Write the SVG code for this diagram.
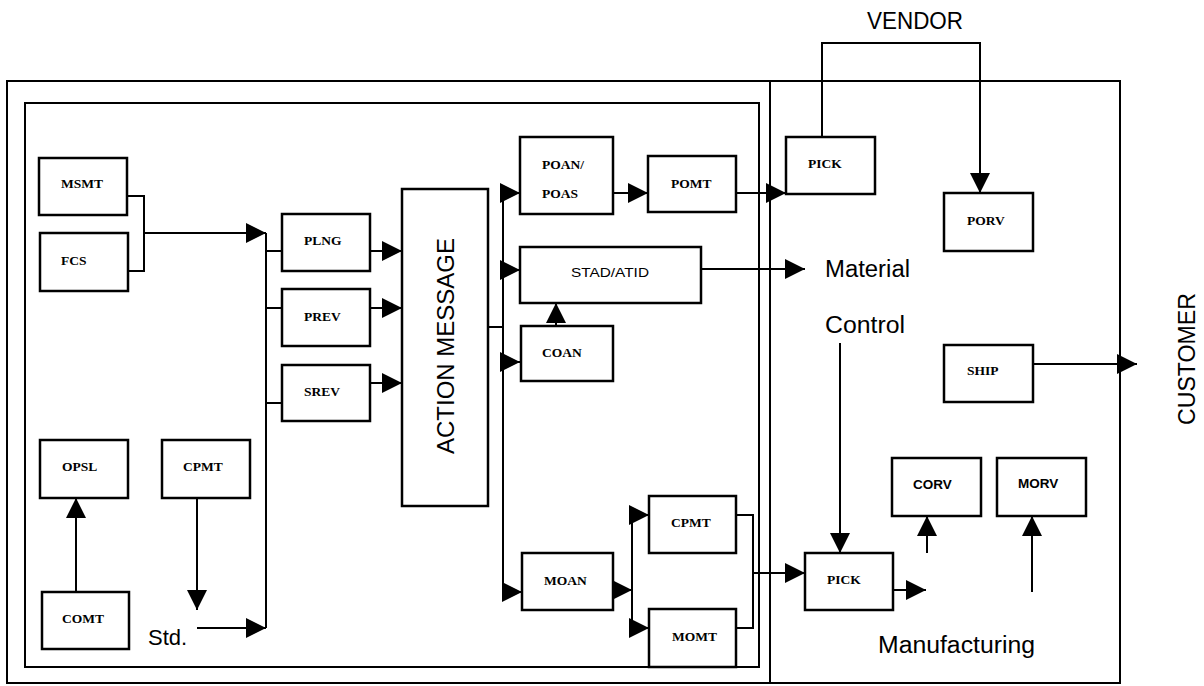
<svg xmlns="http://www.w3.org/2000/svg" width="1204" height="686" viewBox="0 0 1204 686">
<defs>
<marker id="ah" markerUnits="userSpaceOnUse" markerWidth="20" markerHeight="20" refX="20" refY="10" orient="auto">
<path d="M0,0 L20,10 L0,20 Z" fill="#000"/>
</marker>
<style>
.frame{fill:none;stroke:#000;stroke-width:2}
.box{fill:#fff;stroke:#000;stroke-width:2.5}
.ln{fill:none;stroke:#000;stroke-width:2}
.ar{fill:none;stroke:#000;stroke-width:2;marker-end:url(#ah)}
.lbl{font-family:"Liberation Serif",serif;font-weight:bold;font-size:13.5px;fill:#000}
.slbl{font-family:"Liberation Sans",sans-serif;font-weight:bold;font-size:13.5px;fill:#000}
.big{font-family:"Liberation Sans",Arial,sans-serif;font-size:23.5px;fill:#000}
</style>
</defs>
<rect width="1204" height="686" fill="#fff"/>
<g id="frames">
<rect class="frame" x="7" y="81" width="1113" height="602"/>
<line class="frame" x1="770" y1="81" x2="770" y2="683"/>
<rect class="frame" x="25" y="103" width="734" height="564"/>
</g>
<g id="connectors">
<path class="ln" d="M127,196 H144 V271 H128"/>
<path class="ar" d="M144,233 H266"/>
<path class="ln" d="M266,233 V628"/>
<path class="ln" d="M266,251 H282 M266,308 H282 M266,403 H282"/>
<path class="ar" d="M370,251 H402"/>
<path class="ar" d="M370,308 H402"/>
<path class="ar" d="M370,383 H402"/>
<path class="ar" d="M197,628 H266"/>
<path class="ar" d="M197,498 V610"/>
<path class="ar" d="M76,592 V498"/>
<path class="ln" d="M488,327 H503 M503,193 V592"/>
<path class="ar" d="M503,193 H520"/>
<path class="ar" d="M503,270 H520"/>
<path class="ar" d="M503,362 H520"/>
<path class="ar" d="M503,592 H522"/>
<path class="ar" d="M613,193 H648"/>
<path class="ar" d="M736,193 H786"/>
<path class="ar" d="M683,269 H805"/>
<path class="ar" d="M556,326 V303"/>
<path class="ar" d="M613,590 H632"/>
<path class="ln" d="M632,515 V628"/>
<path class="ar" d="M632,515 H649"/>
<path class="ar" d="M632,628 H649"/>
<path class="ln" d="M736,515 H753 V628 H736"/>
<path class="ar" d="M753,573 H805"/>
<path class="ar" d="M840,343 V553"/>
<path class="ar" d="M893,590 H926"/>
<path class="ar" d="M927,553 V516"/>
<path class="ar" d="M1032,592 V516"/>
<path class="ar" d="M1033,364 H1137"/>
<path class="ar" d="M822,137 V43 H980 V193"/>
</g>
<g id="MSMT"><rect class="box" x="39" y="158" width="88" height="57"/><text class="lbl" x="61" y="188">MSMT</text></g>
<g id="FCS"><rect class="box" x="40" y="233" width="88" height="58"/><text class="lbl" x="61" y="265">FCS</text></g>
<g id="PLNG"><rect class="box" x="282" y="214" width="88" height="57"/><text class="lbl" x="304" y="245">PLNG</text></g>
<g id="PREV"><rect class="box" x="282" y="289" width="88" height="57"/><text class="lbl" x="304" y="321">PREV</text></g>
<g id="SREV"><rect class="box" x="282" y="365" width="88" height="56"/><text class="lbl" x="304" y="396">SREV</text></g>
<g id="ACTION"><rect class="box" x="402" y="189" width="86" height="317"/><text class="big" transform="translate(454,346) rotate(-90)" text-anchor="middle" style="font-size:24px">ACTION MESSAGE</text></g>
<g id="POAN"><rect class="box" x="520" y="137" width="93" height="77"/><text class="lbl" x="542" y="169">POAN/</text><text class="lbl" x="542" y="198">POAS</text></g>
<g id="POMT"><rect class="box" x="648" y="156" width="88" height="56"/><text class="lbl" x="671" y="188">POMT</text></g>
<g id="STAD"><rect class="box" x="520" y="247" width="181" height="56"/><text class="slbl" x="571" y="277" style="font-weight:normal;font-size:13.5px" textLength="78" lengthAdjust="spacingAndGlyphs">STAD/ATID</text></g>
<g id="COAN"><rect class="box" x="521" y="326" width="92" height="55"/><text class="lbl" x="542" y="357">COAN</text></g>
<g id="OPSL"><rect class="box" x="40" y="440" width="88" height="58"/><text class="lbl" x="62" y="471">OPSL</text></g>
<g id="CPMT1"><rect class="box" x="162" y="440" width="88" height="58"/><text class="lbl" x="183" y="471">CPMT</text></g>
<g id="COMT"><rect class="box" x="42" y="592" width="87" height="57"/><text class="lbl" x="62" y="623">COMT</text></g>
<g id="MOAN"><rect class="box" x="522" y="553" width="91" height="57"/><text class="lbl" x="544" y="585">MOAN</text></g>
<g id="CPMT2"><rect class="box" x="649" y="496" width="87" height="57"/><text class="lbl" x="671" y="527">CPMT</text></g>
<g id="MOMT"><rect class="box" x="649" y="609" width="87" height="58"/><text class="lbl" x="672" y="641">MOMT</text></g>
<g id="PICK1"><rect class="box" x="786" y="137" width="89" height="57"/><text class="lbl" x="808" y="168">PICK</text></g>
<g id="PORV"><rect class="box" x="944" y="193" width="89" height="58"/><text class="lbl" x="967" y="225">PORV</text></g>
<g id="SHIP"><rect class="box" x="944" y="345" width="89" height="57"/><text class="lbl" x="967" y="375">SHIP</text></g>
<g id="CORV"><rect class="box" x="892" y="458" width="89" height="58"/><text class="slbl" x="913" y="489">CORV</text></g>
<g id="MORV"><rect class="box" x="997" y="458" width="89" height="58"/><text class="slbl" x="1018" y="488">MORV</text></g>
<g id="PICK2"><rect class="box" x="805" y="553" width="88" height="57"/><text class="lbl" x="827" y="584">PICK</text></g>
<g id="labels">
<text class="big" x="867" y="29" textLength="96" lengthAdjust="spacingAndGlyphs">VENDOR</text>
<text class="big" x="825" y="277" textLength="85" lengthAdjust="spacingAndGlyphs">Material</text>
<text class="big" x="825" y="333" textLength="80" lengthAdjust="spacingAndGlyphs">Control</text>
<text class="big" x="878" y="653" textLength="157" lengthAdjust="spacingAndGlyphs">Manufacturing</text>
<text class="big" x="148" y="645" style="font-size:22px">Std.</text>
<text class="big" transform="translate(1195,359) rotate(-90)" text-anchor="middle" textLength="132" lengthAdjust="spacingAndGlyphs">CUSTOMER</text>
</g>
</svg>
